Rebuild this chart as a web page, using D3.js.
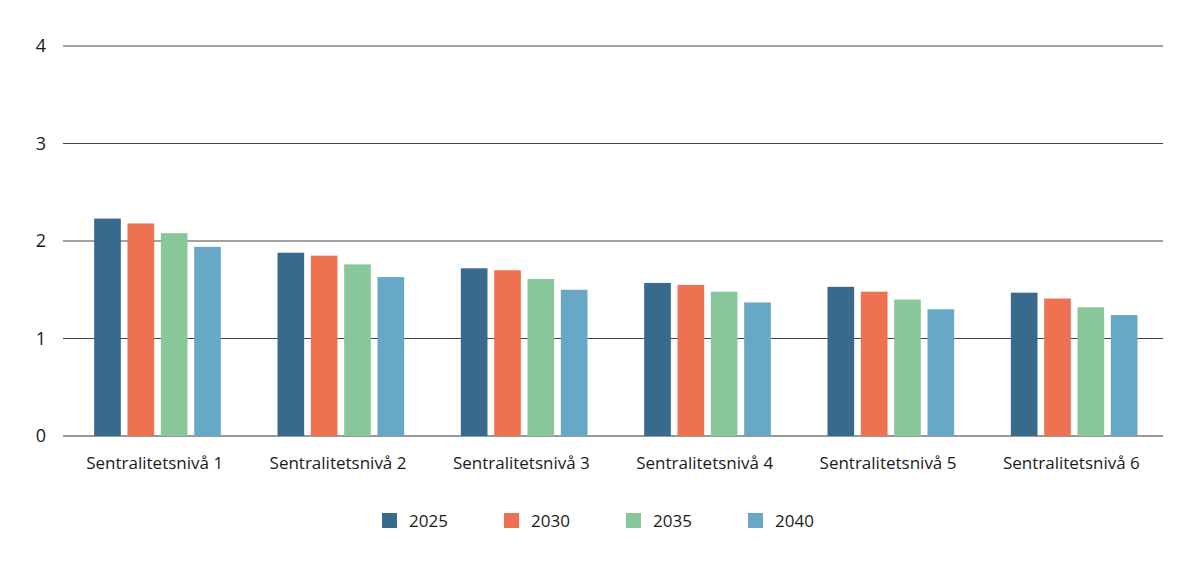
<!DOCTYPE html>
<html>
<head>
<meta charset="utf-8">
<script src="https://cdn.jsdelivr.net/npm/d3@7"></script>
<style>
  body { margin: 0; background: #fff; }
  text { font-family: "Open Sans", sans-serif; fill: #1a1a1a; }
</style>
</head>
<body>
<div id="chart"></div>
<script>
// Data
var categories = ["Sentralitetsnivå 1", "Sentralitetsnivå 2", "Sentralitetsnivå 3",
                  "Sentralitetsnivå 4", "Sentralitetsnivå 5", "Sentralitetsnivå 6"];
var years = ["2025", "2030", "2035", "2040"];
var values2025 = [2.23, 1.88, 1.72, 1.57, 1.53, 1.47];
var values2030 = [2.18, 1.85, 1.70, 1.55, 1.48, 1.41];
var values2035 = [2.08, 1.76, 1.61, 1.48, 1.40, 1.32];
var values2040 = [1.94, 1.63, 1.50, 1.37, 1.30, 1.24];
var yTicks = [0, 1, 2, 3, 4];
var colors = ["#386a8e", "#ee7252", "#88c799", "#67a8c7"];

var series = [values2025, values2030, values2035, values2040];

var w = 1198, h = 568;
var margin = {top: 46, right: 35, bottom: 132, left: 63};
var width = w - margin.left - margin.right;
var height = h - margin.top - margin.bottom;

var svg = d3.select("#chart").append("svg")
    .attr("width", w)
    .attr("height", h);

var g = svg.append("g")
    .attr("transform", "translate(" + margin.left + "," + margin.top + ")");

// Scales
var x0 = d3.scaleBand().domain(categories).range([0, width]);
var x1 = d3.scaleBand().domain(years).range([0, x0.bandwidth()])
    .paddingInner(0.2).paddingOuter(0.85).align(0.55);
var yScale = d3.scaleLinear().domain([0, 4]).range([height, 0]);

// Gridlines
g.selectAll(".grid").data(yTicks).enter().append("line")
    .attr("x1", 0)
    .attr("x2", width)
    .attr("y1", function(d) { return yScale(d); })
    .attr("y2", function(d) { return yScale(d); })
    .attr("stroke", function(d) { return d === 0 ? "#777" : "#444"; })
    .attr("stroke-width", function(d) { return d === 0 ? 1.5 : 1; });

// Y tick labels
g.selectAll(".ylab").data(yTicks).enter().append("text")
    .attr("x", -17)
    .attr("y", function(d) { return yScale(d); })
    .attr("dy", "0.35em")
    .attr("text-anchor", "end")
    .attr("font-size", "18px")
    .text(function(d) { return d; });

// Bars
var groups = g.selectAll(".cat").data(categories).enter().append("g")
    .attr("transform", function(d) { return "translate(" + x0(d) + ",0)"; });

groups.selectAll("rect")
    .data(function(d, i) { return years.map(function(yr, j) { return {year: yr, value: series[j][i], idx: j}; }); })
    .enter().append("rect")
    .attr("x", function(d) { return x1(d.year); })
    .attr("y", function(d) { return yScale(d.value); })
    .attr("width", x1.bandwidth())
    .attr("height", function(d) { return height - yScale(d.value); })
    .attr("fill", function(d) { return colors[d.idx]; });

// X axis labels
var xAxis = d3.axisBottom(x0).tickSize(0).tickPadding(21);
var xg = g.append("g")
    .attr("transform", "translate(0," + height + ")")
    .call(xAxis);
xg.select(".domain").remove();
xg.selectAll("text")
    .attr("font-size", "17px")
    .attr("font-family", "Open Sans, sans-serif")
    .attr("fill", "#1a1a1a");

// Legend
var legend = svg.append("g")
    .attr("transform", "translate(382,513)");
var items = legend.selectAll(".item").data(years).enter().append("g")
    .attr("transform", function(d, i) { return "translate(" + (i * 122) + ",0)"; });
items.append("rect")
    .attr("width", 15)
    .attr("height", 15)
    .attr("fill", function(d, i) { return colors[i]; });
items.append("text")
    .attr("x", 27)
    .attr("y", 8)
    .attr("dy", "0.35em")
    .attr("font-size", "17px")
    .text(function(d) { return d; });
</script>
</body>
</html>
